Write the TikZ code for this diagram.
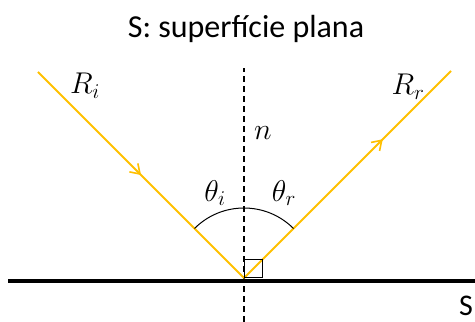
\documentclass[tikz,border=0pt]{standalone}
\usepackage{fix-cm}
\usepackage{amsmath}
\usepackage{fontspec}
\setmainfont{Carlito}
\usetikzlibrary{decorations.markings, arrows.meta}

\definecolor{raycol}{HTML}{FFC000}

\begin{document}
\begin{tikzpicture}[x=1pt, y=1pt, >={Straight Barb[length=9pt, width=12pt]}]

\tikzset{
  ray/.style={draw=raycol, line width=1.8pt},
  lbl/.style={inner sep=0pt, font=\fontsize{30}{34}\selectfont},
  midarrow/.style={postaction={decorate, decoration={markings,
      mark=at position #1 with {\arrow[raycol, line width=1.6pt]{>}}}}}
}

\useasboundingbox (0,0) rectangle (475,322);

% Points of the figure
\coordinate (O)  at (244, 44);
\coordinate (A)  at ( 38,250);
\coordinate (B)  at (451,251);
\coordinate (nt) at (244,254);
\coordinate (nb) at (244,  0);
\coordinate (sl) at (  8, 41);
\coordinate (sr) at (475, 41);

% Title and labels
\node (title) at (246,293) [inner sep=0pt, font=\fontsize{32}{36}\selectfont] {S: superfície plana};
\node (Ri) at ( 85,236) [lbl] {$R_i$};
\node (Rr) at (408,235) [lbl] {$R_r$};
\node (n)  at (263,189) [lbl] {$n$};
\node (ti) at (215,129) [lbl] {$\theta_i$};
\node (tr) at (284,129) [lbl] {$\theta_r$};
\node (S)  at (466, 16) [inner sep=0pt, font=\fontsize{30}{36}\selectfont] {S};

% Surface and normal
\draw[line width=4pt] (sl) -- (sr);
\draw[line width=1.1pt, dash pattern=on 6pt off 4pt] (nb) -- (nt);

% Incident and reflected rays
\draw[ray, midarrow=0.5] (A) -- (O);
\draw[ray, midarrow=0.67] (O) -- (B);

% Angle arc and right-angle mark
\draw[line width=1pt] (O) ++(135:70) arc[start angle=135, end angle=45, radius=70];
\draw[line width=1pt] (O) rectangle ++(18,18);

\end{tikzpicture}
\end{document}
